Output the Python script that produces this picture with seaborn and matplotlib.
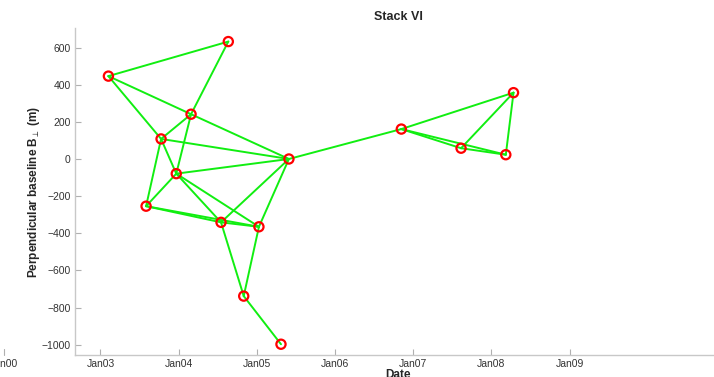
import matplotlib
matplotlib.use("Agg")
import matplotlib.pyplot as plt
import matplotlib.dates as mdates
from matplotlib.lines import Line2D
import numpy as np
import pandas as pd
import seaborn as sns

# Acquisition dates and perpendicular baselines of the scenes in the stack
scene_dates = [
    "2003-02-07", "2004-08-20", "2004-02-28", "2003-10-11", "2005-05-30",
    "2003-12-21", "2003-08-02", "2004-07-17", "2005-01-10", "2004-10-31",
    "2005-04-23", "2006-11-06", "2007-08-12", "2008-03-08", "2008-04-13",
]
baselines = [446, 632, 241, 108, 0, -79, -254, -341, -365, -738, -997,
             161, 58, 23, 357]

# Interferometric pairs (indices into the scene lists)
pair_master = [0, 0, 0, 1, 2, 2, 2, 3, 3, 3, 5, 5, 5, 5, 6, 6, 7, 4, 4,
               7, 8, 9, 4, 11, 11, 11, 12, 12, 13]
pair_slave = [1, 2, 3, 2, 3, 4, 5, 4, 5, 6, 4, 6, 7, 8, 7, 8, 8, 7, 8,
              9, 9, 10, 11, 14, 12, 13, 13, 14, 14]

year_ticks = [2003, 2004, 2005, 2006, 2007, 2008, 2009]

scenes = pd.DataFrame({"date": pd.to_datetime(scene_dates), "bperp": baselines})

rows = []
for k, (a, b) in enumerate(zip(pair_master, pair_slave)):
    for idx in (a, b):
        rows.append({"pair": k, "date": scenes["date"][idx], "bperp": scenes["bperp"][idx]})
pairs = pd.DataFrame(rows)

sns.set_theme(style="white")
plt.rcParams["font.family"] = ["Liberation Sans", "DejaVu Sans"]
plt.rcParams["mathtext.fontset"] = "custom"
plt.rcParams["mathtext.rm"] = "Liberation Sans"
plt.rcParams["mathtext.it"] = "Liberation Sans:italic"
plt.rcParams["mathtext.bf"] = "Liberation Sans:bold"

fig = plt.figure(figsize=(7.14, 3.77), dpi=100)
ax = fig.add_axes([75 / 714, 22 / 377, 646 / 714, 327 / 377])

sns.lineplot(data=pairs, x="date", y="bperp", units="pair", estimator=None,
             color="#11ee11", linewidth=1.4, ax=ax, legend=False)
sns.scatterplot(data=scenes, x="date", y="bperp", ax=ax, marker="o", s=44,
                facecolor="none", edgecolor="#ff0000", linewidth=1.6,
                zorder=5, legend=False)

ax.set_xlim(pd.Timestamp("2002-09-04"), pd.Timestamp("2010-12-08"))
ax.set_ylim(-1055, 705)
ax.set_yticks([600, 400, 200, 0, -200, -400, -600, -800, -1000])
ax.set_yticklabels(["600", "400", "200", "0", "\u2212200", "\u2212400",
                    "\u2212600", "\u2212800", "\u22121000"])
ax.set_xticks([pd.Timestamp(f"{y}-01-01") for y in year_ticks])
ax.xaxis.set_major_formatter(mdates.DateFormatter("%b%y"))

for side in ("top", "right"):
    ax.spines[side].set_visible(False)
for side in ("left", "bottom"):
    ax.spines[side].set_color("#c8c8c8")
    ax.spines[side].set_linewidth(1.0)

ax.tick_params(axis="both", direction="in", length=4.5, width=0.8,
               color="#b0b0b0", labelsize=7.5, labelcolor="#333333", pad=3,
               left=True, bottom=True)

ax.set_title("Stack VI", fontsize=9, fontweight="bold", pad=6)
ax.set_xlabel("Date", fontsize=8.5, fontweight="bold", labelpad=0)
ax.set_ylabel(r"Perpendicular baseline B$_{\perp}$ (m)", fontsize=8.5,
              fontweight="bold", labelpad=0)

# Stray tick at the far left below the axis
x_stray = (4 - 75) / 646
ax.add_line(Line2D([x_stray, x_stray], [0, 0.018], transform=ax.transAxes,
                   color="#b0b0b0", lw=0.8, clip_on=False))
ax.text(x_stray, -0.012, "Jan00", transform=ax.transAxes, ha="center",
        va="top", fontsize=7.5, color="#333333", clip_on=False)

fig.savefig("out.png", dpi=100)
